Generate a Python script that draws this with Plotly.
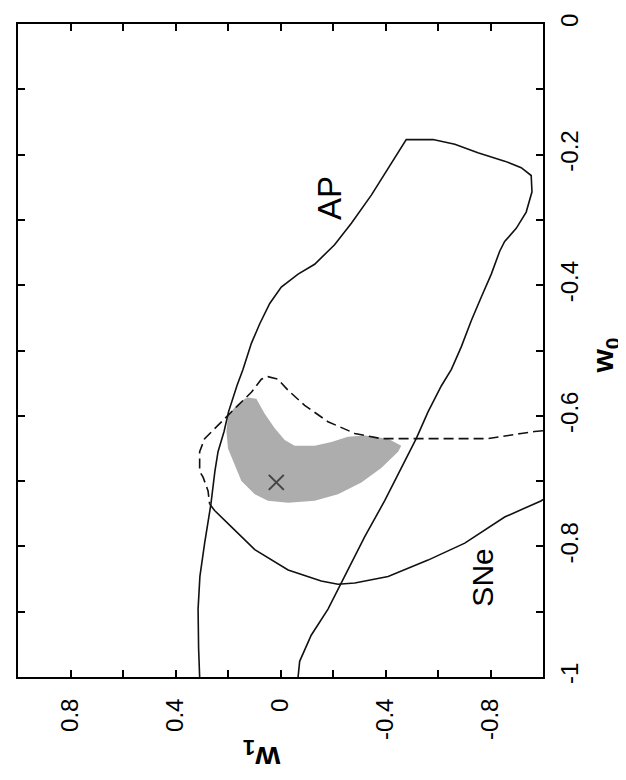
import plotly.graph_objects as go

# ---------------- data (w1 on horizontal, reversed; w0 on vertical) ----------------
# AP contour (open at bottom edge w0 = -1)
ap_w1 = [0.308, 0.312, 0.314, 0.307, 0.289, 0.265, 0.250, 0.238, 0.215, 0.198, 0.166, 0.143,
         0.111, 0.079, 0.041, -0.003, -0.067, -0.130, -0.206, -0.270, -0.346, -0.410, -0.460,
         -0.479, -0.581, -0.664, -0.752, -0.854, -0.917, -0.955, -0.958, -0.936, -0.898,
         -0.854, -0.835, -0.803, -0.765, -0.727, -0.689, -0.651, -0.613, -0.562, -0.517,
         -0.460, -0.397, -0.321, -0.232, -0.181, -0.117, -0.073, -0.067]
ap_w0 = [-1.000, -0.956, -0.896, -0.846, -0.795, -0.735, -0.685, -0.655, -0.624, -0.594, -0.554,
         -0.529, -0.489, -0.459, -0.428, -0.403, -0.383, -0.368, -0.338, -0.305, -0.262, -0.222,
         -0.190, -0.177, -0.177, -0.184, -0.197, -0.210, -0.220, -0.232, -0.257, -0.288, -0.313,
         -0.333, -0.348, -0.383, -0.418, -0.454, -0.494, -0.529, -0.554, -0.594, -0.635, -0.680,
         -0.730, -0.785, -0.856, -0.896, -0.936, -0.976, -1.000]

# SNe contour, dashed upper part
sne_dash_w1 = [-1.000, -0.968, -0.917, -0.790, -0.664, -0.517, -0.384, -0.283, -0.181, -0.092,
               -0.029, 0.010, 0.048, 0.073, 0.111, 0.162, 0.200, 0.238, 0.289, 0.308, 0.308,
               0.295, 0.276, 0.270]
sne_dash_w0 = [-0.623, -0.624, -0.627, -0.635, -0.635, -0.635, -0.635, -0.627, -0.609, -0.584,
               -0.561, -0.544, -0.540, -0.544, -0.564, -0.584, -0.599, -0.614, -0.635, -0.655,
               -0.685, -0.694, -0.715, -0.735]

# SNe contour, solid lower arc
sne_solid_w1 = [0.270, 0.251, 0.187, 0.098, -0.029, -0.155, -0.219, -0.283, -0.410, -0.562,
                -0.702, -0.854, -0.994, -1.000]
sne_solid_w0 = [-0.735, -0.745, -0.770, -0.805, -0.836, -0.853, -0.858, -0.856, -0.846, -0.821,
                -0.795, -0.755, -0.730, -0.728]

# combined (shaded) region
comb_w1 = [0.124, 0.092, 0.060, 0.022, -0.016, -0.054, -0.130, -0.194, -0.257, -0.321, -0.410,
           -0.460, -0.448, -0.384, -0.308, -0.219, -0.130, -0.029, 0.048, 0.098, 0.149, 0.174,
           0.200, 0.206, 0.200, 0.174, 0.136]
comb_w0 = [-0.572, -0.574, -0.597, -0.619, -0.637, -0.646, -0.646, -0.640, -0.632, -0.630, -0.635,
           -0.646, -0.655, -0.680, -0.702, -0.720, -0.730, -0.733, -0.730, -0.720, -0.700, -0.675,
           -0.650, -0.624, -0.599, -0.587, -0.574]

# fiducial model
fid_w1 = [0.016]
fid_w0 = [-0.702]

# ticks
w1_tickvals = [0.8, 0.4, 0.0, -0.4, -0.8]
w1_ticktext = ["0.8", "0.4", "0", "-0.4", "-0.8"]
w1_minorvals = [0.6, 0.2, -0.2, -0.6]
w0_tickvals = [0.0, -0.2, -0.4, -0.6, -0.8, -1.0]
w0_ticktext = ["0", "-0.2", "-0.4", "-0.6", "-0.8", "-1"]
w0_minorvals = [-0.1, -0.3, -0.5, -0.7, -0.9]

FONT = "Liberation Sans, Arial, Helvetica, sans-serif"
LINE = "#111111"

fig = go.Figure()
fig.add_trace(go.Scatter(x=comb_w1, y=comb_w0, mode="lines", fill="toself",
                         fillcolor="#adadad", line=dict(width=0, color="#adadad"),
                         hoverinfo="skip", showlegend=False))
fig.add_trace(go.Scatter(x=ap_w1, y=ap_w0, mode="lines",
                         line=dict(color=LINE, width=1.6), showlegend=False))
fig.add_trace(go.Scatter(x=sne_dash_w1, y=sne_dash_w0, mode="lines",
                         line=dict(color=LINE, width=1.6, dash="10px,5px"), showlegend=False))
fig.add_trace(go.Scatter(x=sne_solid_w1, y=sne_solid_w0, mode="lines",
                         line=dict(color=LINE, width=1.6), showlegend=False))
fig.add_trace(go.Scatter(x=fid_w1, y=fid_w0, mode="markers",
                         marker=dict(symbol="x-thin-open", size=15, color="#444444",
                                     line=dict(color="#444444", width=2)),
                         showlegend=False))

axis_common = dict(showgrid=False, zeroline=False, showline=True, linewidth=2,
                   linecolor="black", mirror="ticks", ticks="inside", ticklen=7,
                   tickwidth=1.5, tickcolor="black", tickmode="array",
                   ticklabeloverflow="allow",
                   tickfont=dict(family=FONT, size=24, color="black"), tickangle=-90)

fig.update_layout(
    width=626, height=780,
    margin=dict(l=10, r=91, t=6, b=111),
    plot_bgcolor="white", paper_bgcolor="white",
    xaxis=dict(range=[1, -1], tickvals=w1_tickvals, ticktext=w1_ticktext,
               minor=dict(tickvals=w1_minorvals, ticks="inside", ticklen=7,
                          tickwidth=1.5, tickcolor="black", showgrid=False),
               side="bottom", ticklabelstandoff=10, **axis_common),
    yaxis=dict(range=[-1, 0], tickvals=w0_tickvals, ticktext=w0_ticktext,
               minor=dict(tickvals=w0_minorvals, ticks="inside", ticklen=7,
                          tickwidth=1.5, tickcolor="black", showgrid=False),
               side="right", ticklabelstandoff=4, **axis_common),
    annotations=[
        dict(text="<b>w<sub>0</sub></b>", xref="paper", yref="paper", x=1.117, y=0.493,
             xanchor="center", yanchor="middle", textangle=-90, showarrow=False,
             font=dict(family=FONT, size=30, color="black")),
        dict(text="<b>w<sub>1</sub></b>", xref="paper", yref="paper", x=0.465, y=-0.12,
             xanchor="center", yanchor="middle", textangle=180, showarrow=False,
             font=dict(family=FONT, size=32, color="black")),
        dict(text="AP", xref="x", yref="y", x=-0.187, y=-0.267, textangle=-90,
             xanchor="center", yanchor="middle", showarrow=False,
             font=dict(family=FONT, size=33, color="black")),
        dict(text="SNe", xref="x", yref="y", x=-0.771, y=-0.848, textangle=-90,
             xanchor="center", yanchor="middle", showarrow=False,
             font=dict(family=FONT, size=30, color="black")),
    ],
)

fig.write_html("out.html")
